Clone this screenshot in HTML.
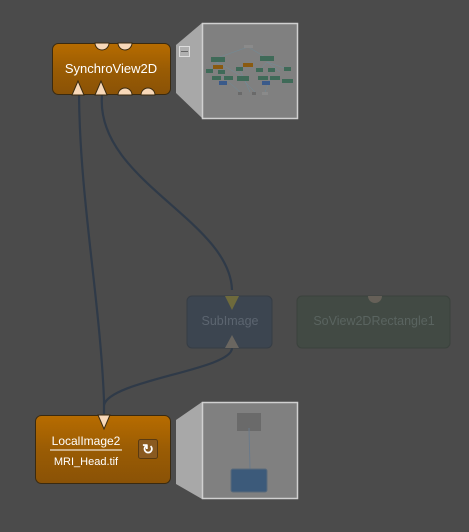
<!DOCTYPE html>
<html><head><style>
body{margin:0;background:#4b4b4b;}
svg{display:block;font-family:"Liberation Sans",sans-serif;}
</style></head><body>
<svg width="469" height="532" viewBox="0 0 469 532">
<defs>
<linearGradient id="og" x1="0" y1="0" x2="0" y2="1">
<stop offset="0" stop-color="#b76c00"/><stop offset="0.5" stop-color="#9a5c04"/><stop offset="1" stop-color="#8a5206"/>
</linearGradient>
</defs>
<rect width="469" height="532" fill="#4b4b4b"/>
<g fill="none" stroke="#2f3a48" stroke-width="2.2">
<path d="M79 95 C80 200 100 300 104 400 L104 414"/>
<path d="M102 95 C95 180 230 220 232 290"/>
<path d="M232 348 C232 370 110 380 104 405"/>
</g>
<polygon points="176,45 202,23 202,118 176,93" fill="#a8a8a8"/>
<rect x="202.5" y="23.5" width="95" height="95" fill="#808080" stroke="#d0d0d0" stroke-width="1.5"/>
<g opacity="0.8" stroke="#6a90a0" stroke-width="0.5" fill="none">
<path d="M248 47 L217 58 M248 47 L267 58 M217 62 L210 70 M217 62 L222 72 M217 62 L245 78 M267 62 L260 70 M267 62 L280 72 M267 62 L290 70 M222 76 L240 92 M245 82 L255 92 M270 80 L265 92 M240 70 L250 92"/>
</g>
<rect x="244" y="45" width="9" height="3" fill="#8a8a8a"/>
<g fill="#3f6a58">
<rect x="211" y="57" width="14" height="5"/><rect x="260" y="56" width="14" height="5"/>
<rect x="206" y="69" width="7" height="4"/><rect x="218" y="70" width="7" height="4"/><rect x="236" y="67" width="7" height="4"/>
<rect x="256" y="68" width="7" height="4"/><rect x="268" y="68" width="7" height="4"/><rect x="284" y="67" width="7" height="4"/>
<rect x="212" y="76" width="9" height="4"/><rect x="224" y="76" width="9" height="4"/><rect x="237" y="76" width="12" height="5"/>
<rect x="258" y="76" width="10" height="4"/><rect x="270" y="76" width="10" height="4"/><rect x="282" y="79" width="11" height="4"/>
</g>
<rect x="213" y="65" width="10" height="4" fill="#8a5a10"/><rect x="243" y="63" width="10" height="4" fill="#8a5a10"/>
<rect x="219" y="81" width="8" height="4" fill="#3a5a8a"/><rect x="262" y="81" width="8" height="4" fill="#3a5a8a"/>
<rect x="238" y="92" width="4" height="3" fill="#6a6a6a"/><rect x="252" y="92" width="4" height="3" fill="#6a6a6a"/><rect x="262" y="92" width="6" height="3" fill="#8a8a8a"/>
<rect x="179.5" y="46.5" width="10" height="10" fill="#b0b0b0" stroke="#ddd"/>
<line x1="181" y1="51.5" x2="188" y2="51.5" stroke="#666"/>
<rect x="52.5" y="43.5" width="118" height="51" rx="6" fill="url(#og)" stroke="#3a2a10"/>
<g fill="#f8d8b8" stroke="#3a2a10" stroke-width="1">
<path d="M95 43 A7 7 0 0 0 109 43 Z"/><path d="M118 43 A7 7 0 0 0 132 43 Z"/>
<path d="M118 95 A7 7 0 0 1 132 95 Z"/><path d="M141 95 A7 7 0 0 1 155 95 Z"/>
<path d="M72 95 L78 81 L84 95 Z"/><path d="M95 95 L101 81 L107 95 Z"/>
</g>
<text x="111" y="73" font-size="13" fill="#fff" text-anchor="middle">SynchroView2D</text>
<rect x="187" y="296" width="85" height="52" rx="5" fill="#3c4550" stroke="#363d45"/>
<path d="M225 296 L232 310 L239 296 Z" fill="#6e6a3c"/>
<path d="M225 348 L232 335 L239 348 Z" fill="#6a6660"/>
<text x="230" y="325" font-size="12.5" fill="#5c6570" text-anchor="middle">SubImage</text>
<rect x="297" y="296" width="153" height="52" rx="5" fill="#424a44" stroke="#3b423d"/>
<path d="M368 296 A7 7 0 0 0 382 296 Z" fill="#666058"/>
<text x="374" y="325" font-size="12.5" fill="#5a6460" text-anchor="middle">SoView2DRectangle1</text>
<polygon points="176,420 202,402 202,499 176,484" fill="#a8a8a8"/>
<rect x="202.5" y="402.5" width="95" height="96" fill="#808080" stroke="#d0d0d0" stroke-width="1.5"/>
<rect x="237" y="413" width="24" height="18" fill="#6a6a6a"/>
<line x1="249" y1="428" x2="250" y2="469" stroke="#6a7a8a"/>
<rect x="231" y="469" width="36" height="23" rx="2" fill="#3c5a7a" stroke="#5a6a7a"/>
<rect x="35.5" y="415.5" width="135" height="68" rx="6" fill="url(#og)" stroke="#3a2a10"/>
<path d="M98 415 L104 429 L110 415 Z" fill="#f8d8b8" stroke="#3a2a10"/>
<text x="86" y="445" font-size="12" fill="#fff" text-anchor="middle">LocalImage2</text>
<line x1="50" y1="450" x2="122" y2="450" stroke="#fff"/>
<text x="86" y="465" font-size="11" fill="#fff" text-anchor="middle">MRI_Head.tif</text>
<rect x="138.5" y="439.5" width="19" height="19" rx="2" fill="#8a5a20" stroke="#5a3a10"/>
<text x="148" y="454" font-size="14" font-weight="bold" fill="#fff" text-anchor="middle">↻</text>
</svg>
</body></html>
